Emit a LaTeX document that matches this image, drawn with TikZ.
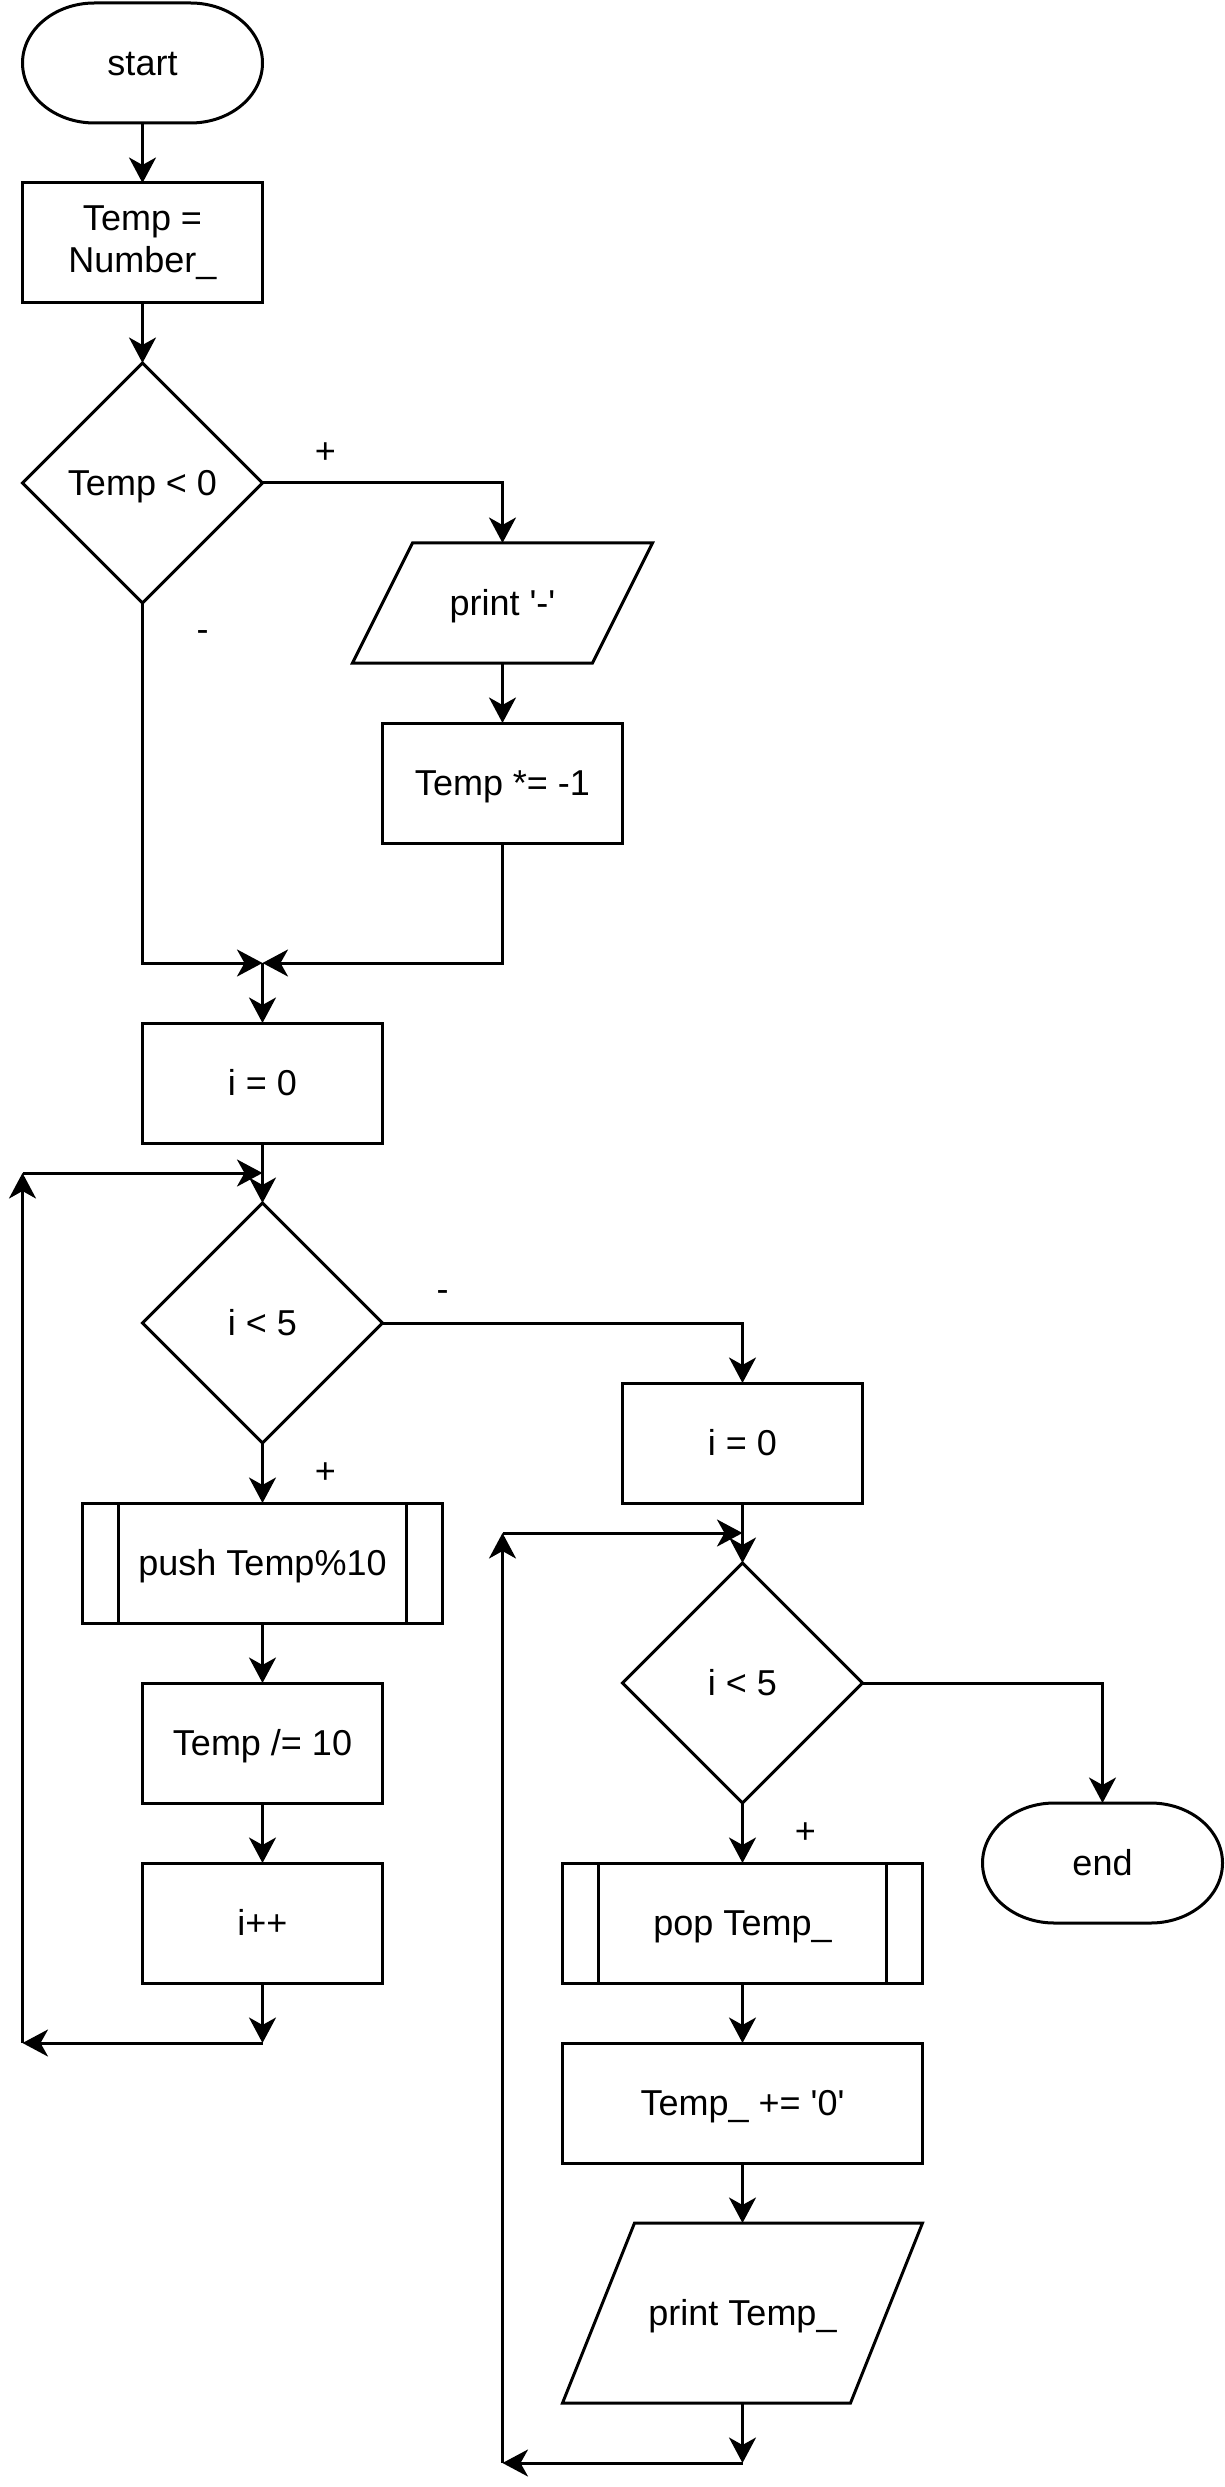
\documentclass[tikz,border=0pt]{standalone}
\usepackage{fontspec}
\setmainfont{Liberation Sans}
\usetikzlibrary{shapes.geometric,arrows.meta,positioning}

\begin{document}
\begin{tikzpicture}[x=1pt, y=1pt, line width=1pt, node distance=20pt,
every node/.style={font=\fontsize{12}{14}\selectfont, inner sep=0pt, outer sep=0pt, align=center},
txt/.style={text height=10.9pt, text depth=2.5pt},
plainbox/.style={draw, minimum width=80pt, minimum height=40pt},
box/.style={txt, plainbox},
widebox/.style={txt, draw, minimum width=120pt, minimum height=40pt},
cond/.style={txt, draw, diamond, minimum width=80pt, minimum height=80pt},
term/.style={txt, minimum width=80pt, minimum height=40pt},
io/.style={txt, minimum width=100pt, minimum height=40pt},
arr/.style={-{Stealth[length=8.5pt,width=9pt,inset=2.5pt]}}]

\useasboundingbox (-7.5,1) rectangle (400.5,-828);

% left column
\node[term] (start) at (40,-20) {start};
\node[plainbox, below=of start] (tempnum) {Temp =\\Number\_};
\node[cond, below=of tempnum] (ifneg) {Temp < 0};
\node[io] (printminus) at (160,-200) {print \textquotesingle-\textquotesingle};
\node[box, below=of printminus] (negate) {Temp *= -1};
\coordinate (join1) at (80,-320);
\node[box] (izero1) at (80,-360) {i = 0};
\node[cond, below=of izero1] (loop1) {i < 5};
\node[widebox, below=of loop1] (push) {push Temp\%10};
\node[box, below=of push] (divide) {Temp /= 10};
\node[box, below=of divide] (incr1) {i++};

% right column
\node[box] (izero2) at (240,-480) {i = 0};
\node[cond, below=of izero2] (loop2) {i < 5};
\node[widebox, below=of loop2] (pop) {pop Temp\_};
\node[widebox, below=of pop] (addzero) {Temp\_ += \textquotesingle0\textquotesingle};
\node[io, minimum width=120pt, minimum height=60pt, below=of addzero] (printtemp) {print Temp\_};
\node[term] (finish) at (360,-620) {end};

% branch labels
\node (plus1) at (101,-150) {+};
\node (minus1) at (60,-211) {-};
\node (minus2) at (140,-431) {-};
\node (plus2) at (101,-490) {+};
\node (plus3) at (261,-610) {+};

% outlines
\draw ([xshift=24pt]start.north west) -- ([xshift=-24pt]start.north east)
  arc[start angle=90, end angle=-90, x radius=24pt, y radius=20pt]
  -- ([xshift=24pt]start.south west)
  arc[start angle=270, end angle=90, x radius=24pt, y radius=20pt] -- cycle;
\draw ([xshift=24pt]finish.north west) -- ([xshift=-24pt]finish.north east)
  arc[start angle=90, end angle=-90, x radius=24pt, y radius=20pt]
  -- ([xshift=24pt]finish.south west)
  arc[start angle=270, end angle=90, x radius=24pt, y radius=20pt] -- cycle;
\draw ([xshift=20pt]printminus.north west) -- (printminus.north east)
  -- ([xshift=-20pt]printminus.south east) -- (printminus.south west) -- cycle;
\draw ([xshift=24pt]printtemp.north west) -- (printtemp.north east)
  -- ([xshift=-24pt]printtemp.south east) -- (printtemp.south west) -- cycle;
\draw ([xshift=12pt]push.north west) -- ([xshift=12pt]push.south west)
  ([xshift=-12pt]push.north east) -- ([xshift=-12pt]push.south east);
\draw ([xshift=12pt]pop.north west) -- ([xshift=12pt]pop.south west)
  ([xshift=-12pt]pop.north east) -- ([xshift=-12pt]pop.south east);

% connectors
\draw[arr] (start.south) -- (tempnum.north);
\draw[arr] (tempnum.south) -- (ifneg.north);
\draw[arr] (ifneg.east) -| (printminus.north);
\draw[arr] (printminus.south) -- (negate.north);
\draw[arr] (ifneg.south) |- (join1);
\draw[arr] (negate.south) |- (join1);
\draw[arr] (join1) -- (izero1.north);
\draw[arr] (izero1.south) -- (loop1.north);
\draw[arr] (loop1.east) -| (izero2.north);
\draw[arr] (loop1.south) -- (push.north);
\draw[arr] (push.south) -- (divide.north);
\draw[arr] (divide.south) -- (incr1.north);

% first loop back
\coordinate (back1) at (80,-680);
\coordinate (back1l) at (0,-680);
\coordinate (back1t) at (0,-390);
\coordinate (back1r) at (80,-390);
\draw[arr] (incr1.south) -- (back1);
\draw[arr] (back1) -- (back1l);
\draw[arr] (back1l) -- (back1t);
\draw[arr] (back1t) -- (back1r);

\draw[arr] (izero2.south) -- (loop2.north);
\draw[arr] (loop2.east) -| (finish.north);
\draw[arr] (loop2.south) -- (pop.north);
\draw[arr] (pop.south) -- (addzero.north);
\draw[arr] (addzero.south) -- (printtemp.north);

% second loop back
\coordinate (back2) at (240,-820);
\coordinate (back2l) at (160,-820);
\coordinate (back2t) at (160,-510);
\coordinate (back2r) at (240,-510);
\draw[arr] (printtemp.south) -- (back2);
\draw[arr] (back2) -- (back2l);
\draw[arr] (back2l) -- (back2t);
\draw[arr] (back2t) -- (back2r);
\end{tikzpicture}
\end{document}
